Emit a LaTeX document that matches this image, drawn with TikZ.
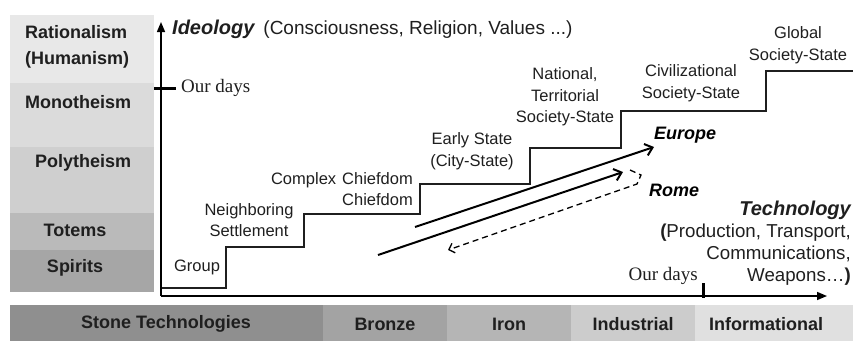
\documentclass[tikz,border=0pt]{standalone}
\usepackage{fontspec}
\setmainfont{Liberation Sans}
\newfontfamily\dayfont{Liberation Serif}
\usetikzlibrary{arrows.meta}

\definecolor{rat}{gray}{0.91}
\definecolor{mono}{gray}{0.86}
\definecolor{poly}{gray}{0.81}
\definecolor{totem}{gray}{0.73}
\definecolor{spirit}{gray}{0.65}
\definecolor{stone}{gray}{0.56}
\definecolor{bronze}{gray}{0.64}
\definecolor{iron}{gray}{0.71}
\definecolor{indus}{gray}{0.80}
\definecolor{inform}{gray}{0.88}
\definecolor{ink}{gray}{0.12}

\begin{document}
\begin{tikzpicture}[x=1pt,y=-1pt,
    lab/.style={font=\fontsize{16.5}{21.5}\selectfont,align=center,inner sep=0pt,text=ink},
    belief/.style={font=\fontsize{18}{26}\selectfont\bfseries,align=left,inner sep=0pt,text=ink},
    era/.style={font=\fontsize{18}{22}\selectfont\bfseries,inner sep=0pt,text=ink},
    days/.style={font=\fontsize{19}{22}\selectfont\dayfont,inner sep=0pt,text=ink},
    path/.style={font=\fontsize{18}{22}\selectfont\bfseries\itshape,inner sep=0pt}]
  \useasboundingbox (0,0) rectangle (853,341);

  % belief bands on the left
  \fill[rat] (10,15) rectangle (154,83);
  \fill[mono] (10,83) rectangle (154,147);
  \fill[poly] (10,147) rectangle (154,213);
  \fill[totem] (10,213) rectangle (154,250);
  \fill[spirit] (10,250) rectangle (154,292);
  \node[belief,anchor=west] (rational) at (25,47) {Rationalism\\(Humanism)};
  \node[belief,anchor=west] (monoth) at (25,102) {Monotheism};
  \node[belief,anchor=west] (polyth) at (35,163) {Polytheism};
  \node[belief] (totems) at (75,230) {Totems};
  \node[belief] (spirits) at (75,268) {Spirits};

  % technology bands at the bottom
  \fill[stone] (10,305) rectangle (323,341);
  \fill[bronze] (323,305) rectangle (447,341);
  \fill[iron] (447,305) rectangle (571,341);
  \fill[indus] (571,305) rectangle (695,341);
  \fill[inform] (695,305) rectangle (853,341);
  \node[era] (stonet) at (166,324) {Stone Technologies};
  \node[era] (bronzet) at (385,324) {Bronze};
  \node[era] (iront) at (509,324) {Iron};
  \node[era] (industt) at (633,324) {Industrial};
  \node[era] (informt) at (766,324) {Informational};

  % axes
  \coordinate (o) at (161,296);
  \coordinate (ytip) at (161,22);
  \coordinate (xtip) at (827,296);
  \draw[line width=1.5pt,-{Triangle[length=10pt,width=8pt]}] (o) -- (ytip);
  \draw[line width=1.5pt,-{Triangle[length=10pt,width=8pt]}] (o) -- (xtip);
  \draw[line width=3pt] (154,88) -- (176,88);
  \draw[line width=3pt] (703,283) -- (703,298);
  \node[days,anchor=west] (ydays) at (181,88) {Our days};
  \node[days,anchor=east] (xdays) at (698,276) {Our days};

  \node[anchor=west,inner sep=0pt,font=\fontsize{19}{20}\selectfont,text=ink] (ideo) at (172,29)
    {{\fontsize{20}{20}\selectfont\bfseries\itshape Ideology}\hspace{9pt}(Consciousness, Religion, Values ...)};
  \node[anchor=east,inner sep=0pt,align=right,font=\fontsize{18.7}{22}\selectfont,text=ink] (techno) at (851,243)
    {{\fontsize{20}{22}\selectfont\bfseries\itshape Technology}\\{\bfseries(}Production, Transport,\\Communications,\\Weapons\ldots{\bfseries)}};

  % the staircase of forms of society
  \draw[line width=1.4pt,ink] (162,288) -| (226,247) -| (304,214) -| (420,184)
    -| (530,148) -| (621,111) -| (766,71) -- (853,71);
  \node[lab] (group) at (197,267) {Group};
  \node[lab] (neighb) at (249,220) {Neighboring\\Settlement};
  \node[lab,align=right,anchor=east] (chief) at (413,189) {Complex\hspace{6pt}Chiefdom\\Chiefdom};
  \node[lab] (early) at (472,151) {Early State\\(City-State)};
  \node[lab] (nation) at (565,97) {National,\\Territorial\\Society-State};
  \node[lab] (civil) at (691,83) {Civilizational\\Society-State};
  \node[lab] (global) at (798,45) {Global\\Society-State};

  % Europe and Rome
  \coordinate (eu0) at (415,227);
  \coordinate (eu1) at (654,147);
  \coordinate (ro0) at (378,255);
  \coordinate (ro1) at (623,172);
  \coordinate (rb0) at (630,170);
  \coordinate (rb1) at (641,175);
  \coordinate (rb2) at (637,184);
  \coordinate (rb3) at (448,250);
  \draw[line width=2pt,-{Straight Barb[length=7pt,width=12pt]}] (eu0) -- (eu1);
  \draw[line width=2pt,-{Straight Barb[length=7pt,width=12pt]}] (ro0) -- (ro1);
  \draw[line width=1.3pt,dash pattern=on 6pt off 4pt,-{Straight Barb[length=5pt,width=10pt]}] (rb0) -- (rb1) -- (rb2) -- (rb3);
  \node[path] (europe) at (685,135) {Europe};
  \node[path] (rome) at (674,190) {Rome};
\end{tikzpicture}
\end{document}
